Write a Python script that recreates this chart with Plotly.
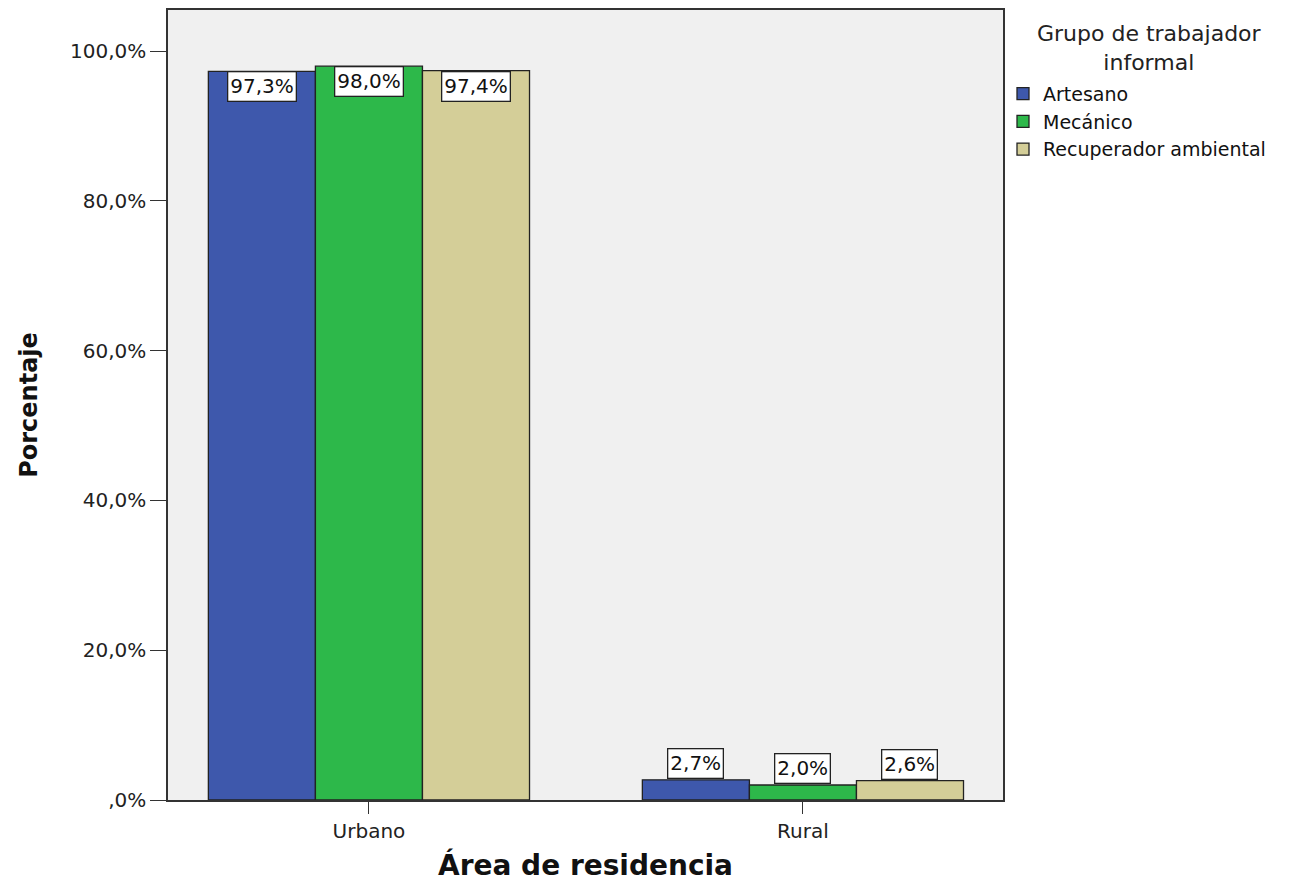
import plotly.graph_objects as go

categories = ["Urbano", "Rural"]
series_names = ["Artesano", "Mecánico", "Recuperador ambiental"]
artesano = [97.3, 2.7]
mecanico = [98.0, 2.0]
recuperador = [97.4, 2.6]
value_labels = [["97,3%", "2,7%"], ["98,0%", "2,0%"], ["97,4%", "2,6%"]]
colors = ["#3e58ac", "#2db84a", "#d4ce98"]
y_tickvals = [0, 20, 40, 60, 80, 100]
y_ticktext = [",0%", "20,0%", "40,0%", "60,0%", "80,0%", "100,0%"]
legend_title = "Grupo de trabajador<br>informal"

series_values = [artesano, mecanico, recuperador]
FONT = "DejaVu Sans, sans-serif"

fig = go.Figure()
for name, vals, col in zip(series_names, series_values, colors):
    fig.add_trace(go.Bar(
        x=categories, y=vals, name=name,
        marker=dict(color=col, line=dict(color="#222222", width=1.3)),
    ))

bar_px = 107
shifts = [-bar_px, 0, bar_px]
for si, (vals, labs) in enumerate(zip(series_values, value_labels)):
    for ci, (cat, v, lab) in enumerate(zip(categories, vals, labs)):
        inside = v > 50
        fig.add_annotation(
            x=cat, y=v, xref="x", yref="y", text=lab, showarrow=False,
            xshift=shifts[si], yanchor="top" if inside else "bottom",
            yshift=0 if inside else 1,
            bgcolor="white", bordercolor="#222222", borderwidth=1.3, borderpad=2,
            font=dict(family=FONT, size=20, color="#111111"),
        )

# legend title as centered text above the legend
fig.add_annotation(
    x=1.176, y=0.989, xref="paper", yref="paper", xanchor="center", yanchor="top",
    text=legend_title, showarrow=False, align="center",
    font=dict(family=FONT, size=22, color="#222222"),
)

fig.update_layout(
    width=1285, height=874,
    margin=dict(l=160, r=290, t=0, b=82),
    paper_bgcolor="white", plot_bgcolor="#f0f0f0",
    barmode="group", bargap=0.26, bargroupgap=0,
    font=dict(family=FONT, size=20, color="#222222"),
    xaxis=dict(
        range=[-0.463, 1.461], showgrid=False, showline=True, mirror=True,
        linecolor="#333333", linewidth=1.5, ticks="outside", ticklen=12,
        tickcolor="#333333", tickfont=dict(size=20, color="#222222"),
        title=dict(text="Área de residencia",
                   font=dict(family=FONT, size=28, color="#111111", weight="bold"),
                   standoff=20),
    ),
    yaxis=dict(
        range=[0, 105.5], showgrid=False, showline=True, mirror=True,
        linecolor="#333333", linewidth=1.5, ticks="outside", ticklen=16,
        tickcolor="#333333", tickvals=y_tickvals, ticktext=y_ticktext,
        tickfont=dict(size=20, color="#222222"), zeroline=False,
        title=dict(text="Porcentaje",
                   font=dict(family=FONT, size=24, color="#111111", weight="bold"),
                   standoff=26),
    ),
    legend=dict(
        x=1.0, y=0.918, xanchor="left", yanchor="top",
        font=dict(size=19, color="#111111"),
        itemwidth=30, tracegroupgap=0, bgcolor="rgba(0,0,0,0)",
    ),
)

fig.write_html("out.html")
